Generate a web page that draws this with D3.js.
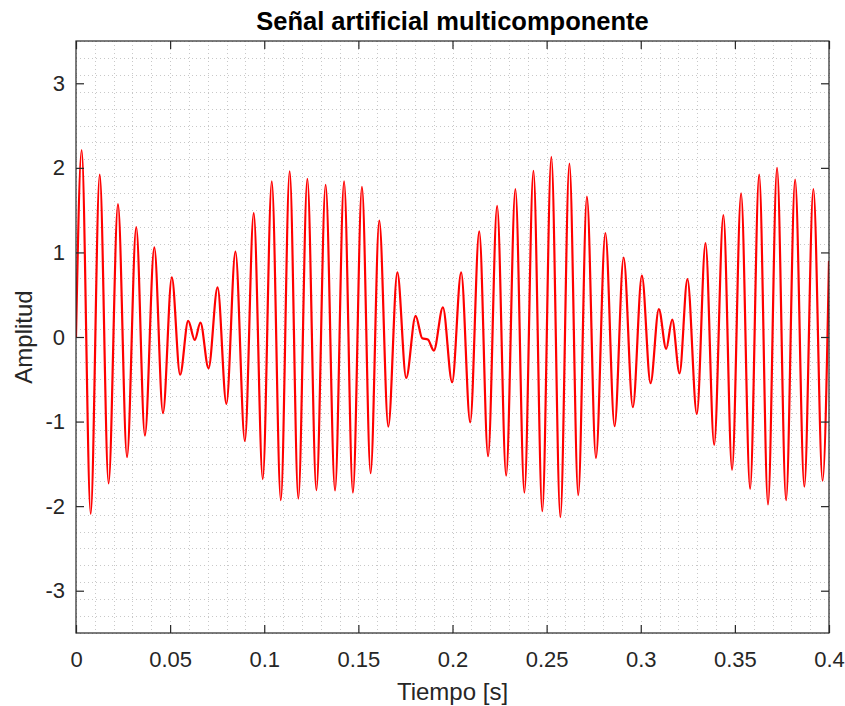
<!DOCTYPE html>
<html>
<head>
<meta charset="utf-8">
<script src="https://cdn.jsdelivr.net/npm/d3@7"></script>
<style>
  html, body { margin: 0; padding: 0; background: #fff; }
  svg { display: block; font-family: "Liberation Sans", Arial, Helvetica, sans-serif; }
</style>
</head>
<body>
<svg id="chart" width="845" height="706"></svg>
<script>
// Data: local extrema of the signal (time in s, amplitude)
const tiempo = [0, 0.0030, 0.0078, 0.0126, 0.0173, 0.0223, 0.0271, 0.0320, 0.0366, 0.0416,
  0.0462, 0.0509, 0.0553, 0.0596, 0.0631, 0.0661, 0.0704, 0.0752, 0.0799, 0.0847,
  0.0897, 0.0944, 0.0992, 0.1040, 0.1088, 0.1135, 0.1181, 0.1229, 0.1277, 0.1326,
  0.1376, 0.1424, 0.1471, 0.1519, 0.1565, 0.1611, 0.1659, 0.1707, 0.1754, 0.1804,
  0.1839, 0.1869, 0.1901, 0.1949, 0.1998, 0.2046, 0.2094, 0.2142, 0.2189, 0.2237,
  0.2285, 0.2334, 0.2382, 0.2430, 0.2477, 0.2525, 0.2573, 0.2621, 0.2668, 0.2714,
  0.2762, 0.2812, 0.2861, 0.2909, 0.2958, 0.3006, 0.3052, 0.3096, 0.3135, 0.3167,
  0.3206, 0.3248, 0.3298, 0.3344, 0.3390, 0.3439, 0.3485, 0.3533, 0.3581, 0.3629,
  0.3676, 0.3724, 0.3772, 0.3820, 0.3869, 0.3917, 0.3966, 0.4000];
const amplitud = [0, 2.21, -2.09, 1.92, -1.73, 1.57, -1.42, 1.30, -1.165, 1.06,
  -0.90, 0.705, -0.445, 0.19, -0.035, 0.17, -0.37, 0.587, -0.79, 1.01,
  -1.23, 1.465, -1.68, 1.84, -1.93, 1.96, -1.91, 1.87, -1.81, 1.80,
  -1.815, 1.84, -1.84, 1.775, -1.61, 1.375, -1.06, 0.765, -0.485, 0.25,
  -0.015, -0.03, -0.16, 0.35, -0.535, 0.765, -1.01, 1.25, -1.41, 1.55,
  -1.64, 1.75, -1.84, 1.965, -2.06, 2.13, -2.13, 2.05, -1.87, 1.66,
  -1.43, 1.23, -1.055, 0.94, -0.83, 0.725, -0.545, 0.33, -0.14, 0.205,
  -0.43, 0.685, -0.91, 1.11, -1.275, 1.44, -1.57, 1.70, -1.795, 1.92,
  -1.98, 2.00, -1.93, 1.86, -1.77, 1.75, -1.70, 0.90];

const xTicks = [0, 0.05, 0.1, 0.15, 0.2, 0.25, 0.3, 0.35, 0.4];
const xTickLabels = ["0", "0.05", "0.1", "0.15", "0.2", "0.25", "0.3", "0.35", "0.4"];
const yTicks = [-3, -2, -1, 0, 1, 2, 3];
const yTickLabels = ["-3", "-2", "-1", "0", "1", "2", "3"];
const xDomain = [0, 0.4];
const yDomain = [-3.5, 3.5];
const titulo = "Señal artificial multicomponente";
const xEtiqueta = "Tiempo [s]";
const yEtiqueta = "Amplitud";

const L = 76, R = 829, T = 41, B = 633;
const axisColor = "#262626";
const svg = d3.select("#chart");

const x = d3.scaleLinear().domain(xDomain).range([L, R]);
const y = d3.scaleLinear().domain(yDomain).range([B, T]);

// minor grid
const xMinor = d3.range(0, 41).map(i => i / 100);
const yMinor = d3.range(-35, 36, 2).map(i => i / 10);
const grid = svg.append("g");
grid.selectAll(".vx").data(xMinor).enter().append("line")
  .attr("x1", d => Math.round(x(d)) + 0.5).attr("x2", d => Math.round(x(d)) + 0.5)
  .attr("y1", T).attr("y2", B)
  .attr("stroke", "#c8c8c8").attr("stroke-width", 1).attr("stroke-dasharray", "1,3");
grid.selectAll(".hy").data(yMinor).enter().append("line")
  .attr("y1", d => Math.round(y(d)) + 0.5).attr("y2", d => Math.round(y(d)) + 0.5)
  .attr("x1", L).attr("x2", R)
  .attr("stroke", "#c8c8c8").attr("stroke-width", 1).attr("stroke-dasharray", "1,3");

// signal
svg.append("clipPath").attr("id", "clip").append("rect")
  .attr("x", L).attr("y", T).attr("width", R - L).attr("height", B - T);
const pts = tiempo.map((t, i) => [t, amplitud[i]]);
const line = d3.line().x(d => x(d[0])).y(d => y(d[1])).curve(d3.curveMonotoneX);
svg.append("path").datum(pts)
  .attr("clip-path", "url(#clip)")
  .attr("fill", "none").attr("stroke", "#ff0000").attr("stroke-width", 2.2)
  .attr("stroke-linejoin", "round")
  .attr("d", line);

// axes (box with inward ticks on all sides)
const tl = 8;
const ax = svg.append("g");
ax.append("rect").attr("x", L).attr("y", T).attr("width", R - L).attr("height", B - T)
  .attr("fill", "none").attr("stroke", axisColor).attr("stroke-width", 1.2);
const xb = svg.append("g").attr("transform", `translate(0,${B})`)
  .call(d3.axisBottom(x).tickValues(xTicks).tickFormat((d, i) => xTickLabels[i]).tickSizeInner(-tl).tickSizeOuter(0).tickPadding(18));
const xt = svg.append("g").attr("transform", `translate(0,${T})`)
  .call(d3.axisTop(x).tickValues(xTicks).tickFormat("").tickSizeInner(-tl).tickSizeOuter(0));
const yl = svg.append("g").attr("transform", `translate(${L},0)`)
  .call(d3.axisLeft(y).tickValues(yTicks).tickFormat((d, i) => yTickLabels[i]).tickSizeInner(-tl).tickSizeOuter(0).tickPadding(11));
const yr = svg.append("g").attr("transform", `translate(${R},0)`)
  .call(d3.axisRight(y).tickValues(yTicks).tickFormat("").tickSizeInner(-tl).tickSizeOuter(0));
[xb, xt, yl, yr].forEach(g => {
  g.select(".domain").remove();
  g.selectAll(".tick line").attr("stroke", axisColor).attr("stroke-width", 1.2);
  g.selectAll(".tick text").attr("fill", axisColor).style("font-size", "22px")
    .style("font-family", "'Liberation Sans', Arial, sans-serif");
});

// title and labels
svg.append("text").attr("x", (L + R) / 2).attr("y", 30).attr("text-anchor", "middle")
  .style("font-size", "25.5px").style("font-weight", "bold").attr("fill", "#000")
  .text(titulo);
svg.append("text").attr("x", (L + R) / 2).attr("y", 700).attr("text-anchor", "middle")
  .style("font-size", "24px").attr("fill", axisColor).text(xEtiqueta);
svg.append("text").attr("transform", `translate(32,${(T + B) / 2}) rotate(-90)`)
  .attr("text-anchor", "middle")
  .style("font-size", "24px").attr("fill", axisColor).text(yEtiqueta);
</script>
</body>
</html>
